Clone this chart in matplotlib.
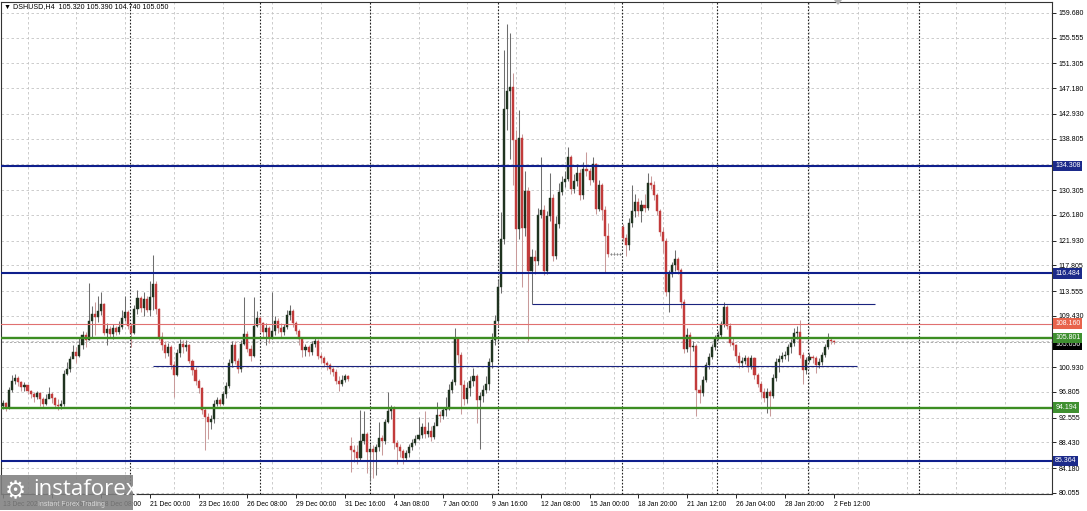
import matplotlib
matplotlib.use('Agg')
import matplotlib.pyplot as plt
from matplotlib.patches import Rectangle, Polygon
import matplotlib.transforms as mtransforms

# ---------------- data ----------------
first_open = 94.5
gap_opens = {114: 87.8, 203: 124.2}

closes = [
    94.9, 94.3, 97.2, 98.7, 99.2, 98.4, 97.6, 97.9, 96.9, 96.4,
    96.0, 96.6, 95.6, 94.8, 95.6, 96.4, 95.8, 94.6, 94.4, 94.8,
    99.8, 100.6, 102.2, 103.4, 102.8, 104.6, 106.2, 105.4, 108.6, 109.8,
    109.2, 110.2, 111.4, 106.6, 107.2, 106.4, 107.4, 106.8, 107.6, 109.0,
    110.0, 107.8, 106.6, 110.6, 112.4, 110.8, 112.2, 110.4, 112.6, 114.8,
    110.6, 106.0, 104.6, 103.2, 104.2, 101.2, 99.6, 103.2, 104.8, 104.2,
    104.6, 102.0, 100.4, 98.6, 97.4, 93.8, 92.6, 91.8, 92.4, 94.8,
    95.4, 94.8, 96.4, 97.8, 101.6, 104.6, 102.0, 100.6, 104.8, 106.4,
    104.0, 102.8, 107.8, 109.0, 108.2, 106.8, 107.4, 106.0, 107.0, 108.6,
    107.4, 106.8, 107.6, 109.6, 110.2, 108.2, 107.0, 105.6, 103.8, 104.2,
    103.4, 104.8, 105.2, 102.8, 102.4, 101.6, 101.2, 100.6, 100.2, 98.6,
    98.2, 98.8, 99.4, 99.0, 87.2, 86.8, 85.8, 88.6, 89.8, 86.8,
    87.4, 86.9, 87.6, 89.2, 88.6, 91.8, 93.6, 94.0, 88.4, 87.6,
    87.0, 85.8, 86.6, 87.6, 88.4, 89.0, 89.6, 91.0, 89.8, 90.4,
    89.4, 91.2, 93.0, 92.8, 93.8, 94.0, 97.2, 98.4, 105.6, 103.0,
    98.0, 95.6, 97.4, 98.6, 99.4, 95.4, 96.2, 97.2, 98.2, 101.8,
    105.4, 108.6, 114.2, 122.2, 143.8, 146.8, 147.4, 138.6, 123.8, 139.0,
    124.0, 130.2, 116.8, 119.2, 118.6, 126.2, 127.0, 116.8, 126.0, 129.0,
    119.4, 124.6, 130.0, 131.6, 132.2, 135.8, 130.4, 131.8, 133.2, 129.4,
    133.8, 133.4, 132.0, 134.6, 127.2, 131.2, 127.0, 122.6, 119.7, 119.7,
    119.7, 119.7, 119.7, 122.4, 121.2, 124.8, 126.8, 128.4, 126.8, 127.8,
    127.4, 131.4, 131.2, 129.4, 126.8, 123.4, 121.9, 113.4, 116.4, 117.8,
    118.8, 117.0, 111.8, 104.0, 106.2, 104.2, 104.4, 97.2, 96.6, 98.8,
    101.3, 102.6, 104.3, 105.6, 106.3, 108.0, 110.9, 107.8, 105.0, 104.6,
    102.7, 101.6, 102.0, 102.4, 101.0, 102.4, 99.6, 98.2, 96.8, 95.8,
    96.8, 96.2, 99.2, 101.8, 102.2, 102.8, 103.0, 104.3, 105.0, 106.6,
    106.8, 102.9, 100.4, 102.1, 102.6, 102.4, 101.3, 101.8, 103.0, 104.3,
    105.4, 105.32, 105.05,
]
highs = [
    95.5, 95.2, 97.6, 99.6, 99.8, 99.4, 98.6, 98.4, 98.0, 97.2,
    96.8, 97.0, 96.8, 95.9, 96.4, 97.6, 96.8, 96.0, 95.6, 95.4,
    100.4, 101.8, 102.8, 104.6, 104.2, 105.8, 107.0, 106.8, 114.9, 111.0,
    111.8, 112.8, 113.4, 111.6, 108.2, 107.8, 108.0, 107.8, 108.6, 110.4,
    112.8, 110.4, 108.2, 111.2, 113.8, 112.8, 113.4, 112.8, 115.2, 119.6,
    115.2, 110.8, 106.8, 105.2, 105.0, 104.6, 102.0, 104.0, 105.6, 105.4,
    105.4, 104.8, 102.2, 101.0, 99.0, 97.6, 94.2, 93.4, 93.0, 95.4,
    96.0, 95.8, 97.0, 98.4, 102.2, 105.2, 105.2, 102.4, 105.4, 112.6,
    107.0, 104.6, 112.6, 110.2, 109.4, 108.4, 108.2, 107.8, 113.4, 109.4,
    109.0, 108.2, 108.0, 110.4, 111.2, 110.6, 108.6, 107.2, 105.8, 104.8,
    104.6, 105.2, 105.8, 105.6, 103.2, 102.8, 102.0, 101.6, 101.0, 100.6,
    99.4, 99.6, 99.8, 99.6, 89.4, 88.0, 88.0, 93.8, 93.6, 90.2,
    88.2, 88.0, 88.2, 91.8, 89.6, 92.4, 96.8, 94.6, 94.4, 88.8,
    88.2, 87.4, 87.2, 88.2, 89.0, 89.6, 92.6, 91.6, 93.6, 91.8,
    91.2, 91.8, 95.2, 93.6, 94.2, 96.0, 98.2, 99.0, 107.4, 105.8,
    103.4, 98.8, 98.4, 99.4, 100.8, 99.8, 96.8, 98.0, 99.4, 102.4,
    106.6, 109.6, 115.4, 126.6, 153.6, 157.8, 156.4, 149.8, 140.2, 143.6,
    139.6, 133.4, 130.8, 120.6, 120.4, 127.4, 135.8, 127.8, 126.8, 133.2,
    129.6, 126.0, 131.4, 132.6, 133.4, 137.4, 136.2, 133.0, 134.6, 133.8,
    135.0, 136.6, 134.0, 135.8, 134.8, 132.0, 131.4, 127.6, 124.8, 119.8,
    119.8, 119.8, 119.8, 124.6, 123.0, 125.6, 131.2, 129.6, 129.0, 128.6,
    129.6, 133.2, 132.6, 131.8, 129.8, 127.2, 124.2, 122.4, 117.0, 118.4,
    120.4, 119.2, 117.4, 112.2, 107.4, 106.8, 105.2, 104.8, 98.0, 99.4,
    101.8, 103.2, 104.8, 106.2, 107.0, 108.6, 111.7, 111.2, 108.2, 105.8,
    104.8, 103.4, 102.6, 103.0, 102.8, 103.0, 102.6, 100.0, 98.6, 97.4,
    97.4, 97.2, 99.8, 102.4, 103.0, 103.4, 103.6, 104.8, 105.6, 107.4,
    107.8, 108.8, 103.4, 102.6, 103.2, 103.0, 102.8, 102.4, 103.4, 104.8,
    106.6, 105.9, 105.39,
]
lows = [
    94.0, 93.6, 94.0, 96.8, 98.2, 97.8, 97.0, 97.0, 96.4, 95.8,
    95.2, 95.6, 94.4, 94.2, 94.6, 95.8, 95.0, 94.2, 93.8, 94.0,
    94.4, 99.6, 100.2, 102.4, 101.6, 102.6, 104.0, 104.2, 105.4, 106.0,
    106.2, 108.4, 109.6, 106.2, 104.6, 105.8, 105.6, 106.2, 106.4, 107.2,
    108.6, 107.2, 104.2, 106.4, 109.8, 110.0, 109.4, 110.0, 109.4, 110.4,
    109.8, 105.4, 103.8, 102.4, 102.8, 100.6, 96.0, 99.4, 102.6, 103.2,
    103.6, 101.6, 99.6, 98.0, 96.6, 93.2, 87.2, 89.0, 90.6, 91.6,
    94.4, 94.4, 94.6, 95.8, 97.4, 101.0, 101.4, 100.0, 100.2, 104.6,
    103.4, 102.0, 102.6, 107.6, 106.8, 106.0, 104.6, 105.0, 105.6, 106.2,
    106.6, 106.0, 106.2, 107.2, 108.8, 107.6, 106.4, 104.6, 102.6, 102.8,
    102.8, 103.0, 104.2, 102.2, 101.6, 101.0, 100.4, 99.8, 99.4, 98.2,
    97.0, 97.8, 98.4, 98.6, 83.6, 85.2, 84.8, 85.6, 88.2, 83.4,
    82.0, 82.6, 83.0, 87.0, 86.4, 88.2, 91.6, 92.4, 87.4, 84.8,
    86.0, 84.8, 85.4, 86.0, 87.2, 88.0, 88.8, 89.2, 89.2, 89.4,
    88.6, 89.0, 91.6, 91.8, 92.4, 92.8, 93.8, 96.6, 98.0, 101.6,
    93.2, 94.6, 95.0, 96.2, 97.8, 91.6, 87.4, 95.2, 96.6, 97.2,
    100.8, 104.6, 107.8, 113.2, 121.4, 140.2, 135.4, 131.2, 116.6, 122.2,
    114.2, 122.6, 105.2, 111.4, 116.4, 117.8, 125.6, 116.2, 116.4, 125.2,
    118.6, 118.8, 124.0, 129.4, 130.8, 131.8, 129.6, 129.8, 131.0, 128.6,
    128.8, 132.6, 131.2, 131.6, 126.4, 126.8, 125.4, 116.6, 119.2, 119.6,
    119.6, 119.6, 119.6, 121.8, 119.4, 120.4, 124.2, 125.8, 126.0, 125.0,
    126.6, 127.0, 130.4, 128.6, 126.2, 122.6, 119.8, 112.8, 110.1, 115.8,
    116.8, 116.4, 110.8, 103.2, 103.4, 101.0, 103.6, 92.8, 95.0, 96.2,
    98.4, 100.6, 102.2, 103.8, 105.4, 106.0, 107.6, 107.2, 104.4, 103.8,
    102.0, 100.8, 101.0, 101.4, 100.2, 100.6, 99.0, 97.6, 96.0, 95.2,
    93.4, 92.8, 95.8, 98.6, 100.2, 101.8, 102.2, 102.0, 103.2, 104.4,
    105.6, 102.4, 98.2, 99.8, 101.8, 101.6, 100.0, 100.8, 101.2, 102.6,
    104.0, 104.8, 104.74,
]

tick_labels = ["13 Dec 2020", "15 Dec 16:00", "18 Dec 08:00", "21 Dec 00:00",
               "23 Dec 16:00", "26 Dec 08:00", "29 Dec 00:00", "31 Dec 16:00",
               "4 Jan 08:00", "7 Jan 00:00", "9 Jan 16:00", "12 Jan 08:00",
               "15 Jan 00:00", "18 Jan 20:00", "21 Jan 12:00", "26 Jan 04:00",
               "28 Jan 20:00", "2 Feb 12:00"]
price_ticks = [159.680, 155.555, 151.305, 147.180, 142.930, 138.805, 134.555,
               130.305, 126.180, 121.930, 117.805, 113.555, 109.430, 105.180,
               100.930, 96.805, 92.555, 88.430, 84.180, 80.055]
hidden_ticks = [134.555, 105.180]

level_prices = [134.308, 116.484, 108.160, 105.801, 94.194, 85.364]
level_kinds = ["blue", "blue", "red", "green", "green", "blue"]
segment_prices = [101.1, 111.4]
segment_starts = [49.0, 173.2]
segment_ends = [279.6, 285.5]
separators = [41.7, 84.0, 120.2, 162.1, 202.7, 233.8, 263.5, 299.9]
last_price = 105.05
title = "\u25bc DSHUSD,H4  105.320 105.390 104.740 105.050"

# ---------------- styling ----------------
W, H = 1087, 511
fig = plt.figure(figsize=(W / 100, H / 100), dpi=100)
fig.patch.set_facecolor('white')
ax_left, ax_right, ax_top, ax_bottom = 0.5, 1052, 2, 494
ax = fig.add_axes([ax_left / W, (H - ax_bottom) / H,
                   (ax_right - ax_left) / W, (ax_bottom - ax_top) / H])
ax.set_facecolor('white')

n = len(closes)
opens = [first_open] + closes[:-1]
for k, v in gap_opens.items():
    opens[k] = v

ax.set_xlim(-0.85, 343.4)
ax.set_ylim(79.88, 161.5)

FONT = ['Liberation Sans', 'DejaVu Sans']
FSY = 5.0
FSX = 4.9

# grid
for p in price_ticks:
    ax.axhline(p, color='#c4c4c4', lw=0.6, ls=(0, (3, 3)), zorder=0)
for g in range(8, 345, 16):
    ax.axvline(g, color='#c4c4c4', lw=0.6, ls=(0, (3, 3)), zorder=0)
for s in separators:
    ax.axvline(s, color='#222222', lw=0.8, ls=(0, (1.5, 1.5)), zorder=0.5)

# candles
BULL_BODY, BULL_WICK = '#1f331f', '#6e6e6e'
BEAR_BODY, BEAR_WICK = '#c23b3b', '#c99a9a'
for i in range(n):
    o, c, hi, lo = opens[i], closes[i], highs[i], lows[i]
    bull = c >= o
    wc = BULL_WICK if bull else BEAR_WICK
    bc = BULL_BODY if bull else BEAR_BODY
    ax.vlines(i, lo, hi, color=wc, lw=0.75, zorder=2)
    if abs(c - o) < 0.05:
        ax.hlines(c, i - 0.45, i + 0.45, color='#8a8a8a', lw=0.8, zorder=3)
    else:
        ax.bar(i, abs(c - o), bottom=min(o, c), width=0.68, color=bc,
               edgecolor=bc, linewidth=0.3, zorder=3)

# horizontal levels
style = {"blue": ('#0f1f8c', 1.5, '#1b2a8a'),
         "red": ('#e07070', 0.8, '#e8644c'),
         "green": ('#3c8d22', 1.7, '#3f9030')}
trans = mtransforms.blended_transform_factory(ax.transAxes, ax.transData)
for p, kind in zip(level_prices, level_kinds):
    col, lw, box = style[kind]
    ax.axhline(p, color=col, lw=lw, zorder=4)
    ax.text(1.003, p, f"{p:.3f}", transform=trans, ha='left', va='center',
            fontsize=FSY, family=FONT, color='white', zorder=10, clip_on=False,
            bbox=dict(boxstyle='square,pad=0.25', fc=box, ec='none'))
for p, s0, s1 in zip(segment_prices, segment_starts, segment_ends):
    ax.hlines(p, s0, s1, color='#1a237e', lw=0.8, zorder=4)

# current price
ax.axhline(last_price, color='#a0a0a0', lw=0.6, ls=(0, (3, 2)), zorder=1)
ax.text(1.003, last_price - 0.35, f"{last_price:.3f}", transform=trans, ha='left',
        va='center', fontsize=FSY, family=FONT, color='white', zorder=9,
        clip_on=False, bbox=dict(boxstyle='square,pad=0.25', fc='black', ec='none'))

# axes
ax.yaxis.tick_right()
ax.set_yticks(price_ticks)
ax.set_yticklabels(["" if p in hidden_ticks else f"{p:.3f}" for p in price_ticks])
ax.tick_params(axis='y', which='both', length=3, width=0.6, pad=2,
               labelsize=FSY, colors='black')
xt = list(range(0, 16 * len(tick_labels), 16))
ax.set_xticks(xt)
ax.set_xticklabels(tick_labels)
for lab in ax.get_xticklabels():
    lab.set_horizontalalignment('left')
for lab in ax.get_xticklabels() + ax.get_yticklabels():
    lab.set_family(FONT)
ax.tick_params(axis='x', length=3, width=0.6, pad=2, labelsize=FSX, colors='black')
for sp in ax.spines.values():
    sp.set_color('#333333')
    sp.set_linewidth(0.8)

# title
fig.text(4 / W, 1 - 7 / H, title, fontsize=5.1, family=FONT, va='center', ha='left')

# chart-shift marker
tx = 838 / W
fig.patches.append(Polygon([[tx - 4 / W, 1.0], [tx + 4 / W, 1.0], [tx, 1 - 5 / H]],
                           closed=True, transform=fig.transFigure,
                           fc='#b0b0b0', ec='none'))

# watermark logo
fig.patches.append(Rectangle((0, 1 / H), 133 / W, 35 / H, transform=fig.transFigure,
                             fc='#808080', ec='none', alpha=0.88, zorder=20))
fig.text(5 / W, 1 - 491 / H, "\u2699", fontsize=17, color='white', family='DejaVu Sans',
         va='center', ha='left', zorder=21)
fig.text(33 / W, 1 - 489 / H, "instaforex", fontsize=16, color='white', family='Open Sans',
         va='center', ha='left', zorder=21)
fig.text(38 / W, 1 - 504 / H, "Instant Forex Trading", fontsize=5, color='#d8d8d8',
         family=FONT, va='center', ha='left', zorder=21)

fig.savefig('out.png', dpi=100)
